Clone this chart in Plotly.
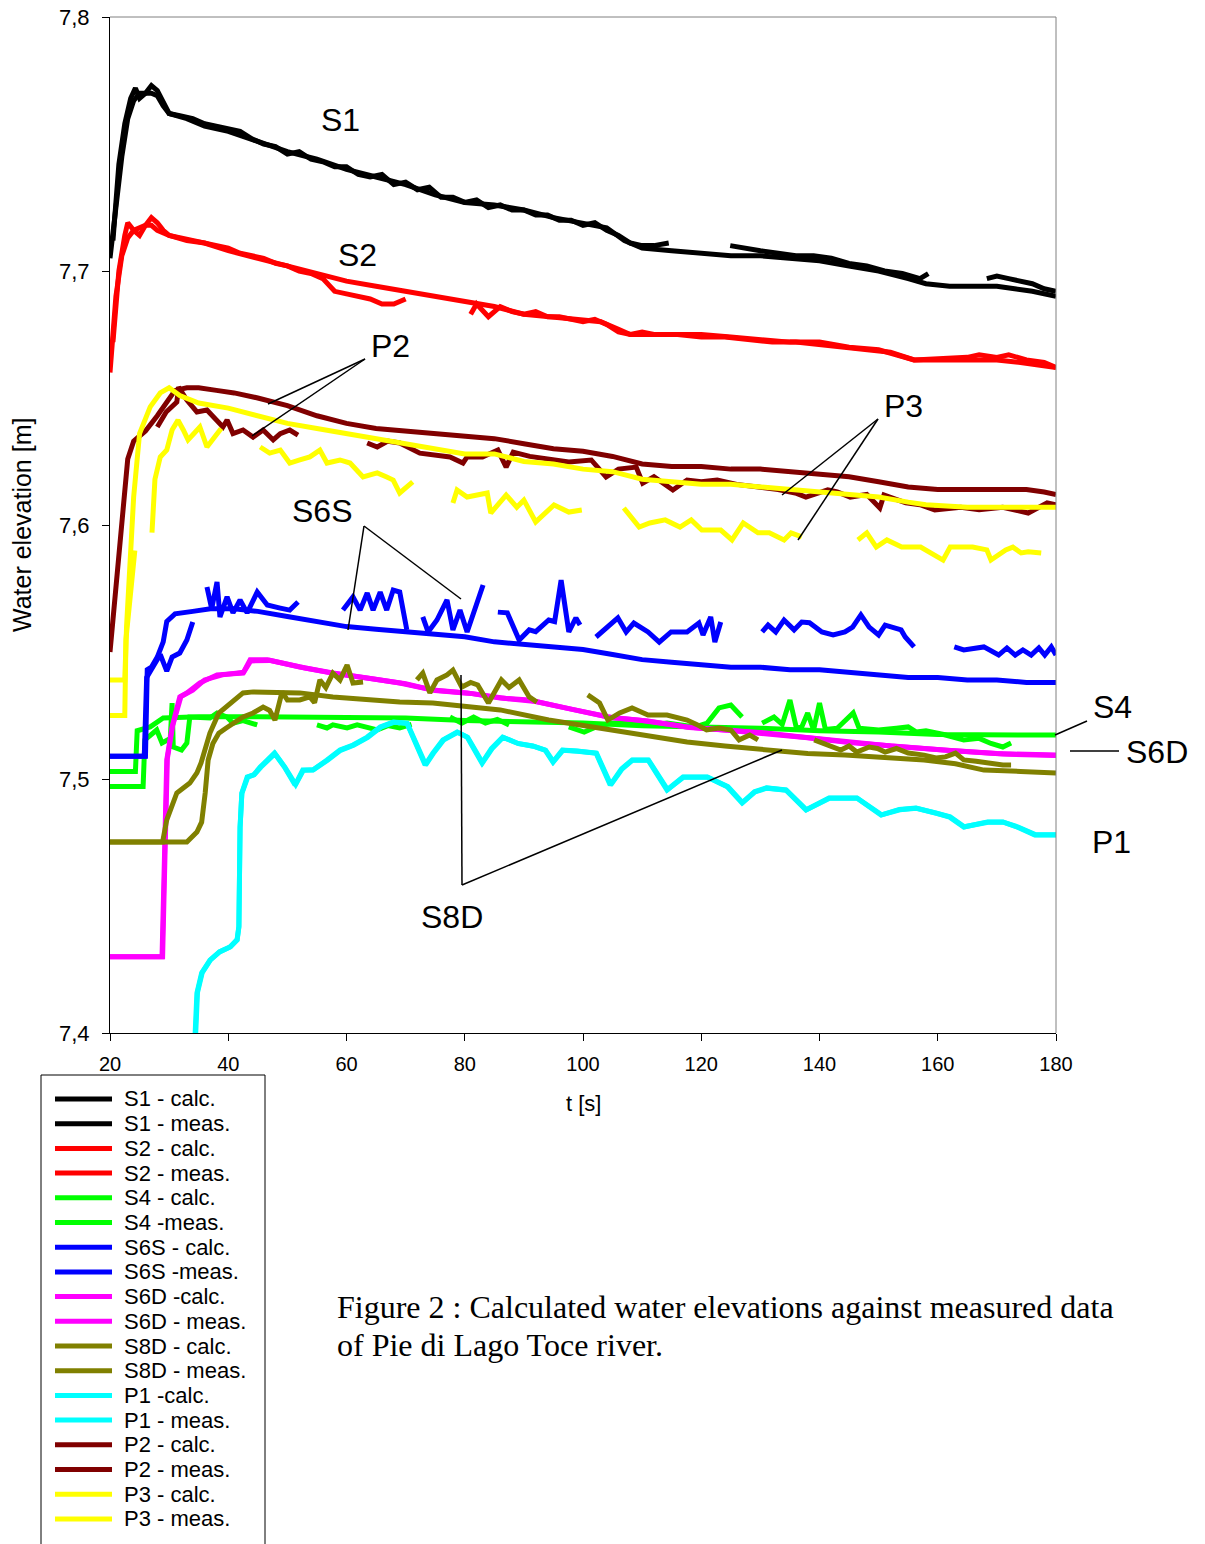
import plotly.graph_objects as go

# ---------------------------------------------------------------------------
# Water elevations at the gauges of the Toce river model (Pie di Lago)
# Each series is a list of (t [s], elevation [m]); (None, None) marks a gap
# ---------------------------------------------------------------------------
S1_CALC = [(20, 7.705), (21, 7.725), (22, 7.745), (23, 7.760), (24, 7.767), (25, 7.770),
           (27, 7.770), (28, 7.769), (29, 7.765), (30, 7.762), (33, 7.760), (36, 7.757),
           (40, 7.755), (45, 7.751), (50, 7.747), (55, 7.744), (60, 7.740), (65, 7.737),
           (70, 7.734), (75, 7.730), (80, 7.727), (85, 7.726), (90, 7.724), (95, 7.721),
           (100, 7.719), (104, 7.717), (107, 7.712), (110, 7.709), (115, 7.708), (120, 7.707),
           (125, 7.706), (130, 7.706), (135, 7.705), (140, 7.704), (145, 7.702), (150, 7.700),
           (155, 7.697), (158, 7.695), (162, 7.694), (170, 7.694), (173, 7.693), (176, 7.692),
           (180, 7.690)]
S1_MEAS = [(20.5, 7.712), (21.5, 7.742), (22.5, 7.758), (23.5, 7.768), (24.3, 7.772), (25, 7.768),
           (26, 7.770), (27, 7.773), (28, 7.771), (29, 7.766), (30, 7.762), (32, 7.761),
           (34, 7.760), (36, 7.758), (38, 7.757), (40, 7.756), (42, 7.755), (44, 7.752),
           (46, 7.750), (48, 7.749), (50, 7.746), (52, 7.747), (54, 7.744), (56, 7.743),
           (58, 7.741), (60, 7.741), (62, 7.738), (64, 7.737), (66, 7.738), (68, 7.734),
           (70, 7.735), (72, 7.732), (74, 7.733), (76, 7.729), (78, 7.729), (80, 7.727),
           (82, 7.728), (84, 7.725), (86, 7.726), (88, 7.724), (90, 7.724), (92, 7.722),
           (94, 7.722), (96, 7.720), (98, 7.720), (100, 7.718), (102, 7.719), (104, 7.716),
           (106, 7.714), (108, 7.711), (110, 7.710), (112, 7.710), (114.5, 7.711), (None, None),
           (124.9, 7.710), (127, 7.709), (130, 7.708), (133, 7.707), (136, 7.706), (139, 7.706),
           (142, 7.705), (145, 7.703), (148, 7.702), (151, 7.700), (154, 7.699), (157, 7.697),
           (158.4, 7.699), (None, None), (168.3, 7.697), (170, 7.698), (172, 7.697), (174, 7.696),
           (176, 7.695), (178, 7.693), (180, 7.692)]

S2_CALC = [(20, 7.660), (21, 7.690), (22, 7.706), (23, 7.713), (24, 7.716), (25, 7.717),
           (26, 7.718), (27, 7.718), (28, 7.716), (30, 7.714), (33, 7.712), (36, 7.711),
           (40, 7.708), (45, 7.705), (50, 7.702), (55, 7.699), (60, 7.696), (65, 7.694),
           (70, 7.692), (75, 7.690), (80, 7.688), (85, 7.686), (90, 7.683), (95, 7.682),
           (100, 7.681), (103, 7.680), (106, 7.677), (108, 7.675), (115, 7.675), (120, 7.675),
           (125, 7.674), (130, 7.673), (135, 7.672), (140, 7.672), (145, 7.670), (150, 7.669),
           (153, 7.667), (156, 7.665), (165, 7.665), (170, 7.665), (174, 7.664), (177, 7.663),
           (180, 7.662)]
S2_MEAS = [(20.5, 7.672), (21.5, 7.700), (22.5, 7.714), (23, 7.719), (24, 7.716), (25, 7.714),
           (26, 7.718), (27, 7.721), (28, 7.719), (29, 7.716), (30, 7.714), (32, 7.713),
           (34, 7.712), (36, 7.711), (38, 7.710), (40, 7.709), (42, 7.707), (44, 7.706),
           (46, 7.705), (48, 7.703), (50, 7.702), (52, 7.700), (54, 7.699), (56, 7.697),
           (58, 7.692), (60, 7.691), (62, 7.690), (64, 7.689), (66, 7.687), (68, 7.687),
           (70, 7.689), (None, None), (81, 7.683), (82, 7.687), (84, 7.682), (86, 7.686),
           (88, 7.684), (90, 7.683), (92, 7.684), (94, 7.682), (96, 7.682), (98, 7.681),
           (100, 7.680), (102, 7.681), (104, 7.679), (106, 7.676), (108, 7.675), (110, 7.676),
           (112, 7.675), (116, 7.675), (120, 7.674), (124, 7.674), (128, 7.673), (132, 7.672),
           (136, 7.672), (140, 7.671), (144, 7.670), (148, 7.669), (152, 7.668), (156, 7.665),
           (165, 7.666), (167, 7.667), (170, 7.666), (172, 7.667), (175, 7.665), (178, 7.664),
           (180, 7.662)]

S4_CALC = [(20, 7.503), (24.3, 7.503), (24.6, 7.519), (26.8, 7.5205), (29, 7.524), (35, 7.5245),
           (45, 7.5245), (60, 7.5244), (70, 7.524), (80, 7.523), (90, 7.5225), (100, 7.522),
           (110, 7.521), (120, 7.5205), (130, 7.520), (140, 7.519), (150, 7.5185), (160, 7.5175),
           (170, 7.5173), (180, 7.5173)]
S4_MEAS = [(20, 7.497), (25.6, 7.497), (25.9, 7.5154), (27.9, 7.5193), (28.8, 7.5142), (30.2, 7.516),
           (30.5, 7.5299), (30.7, 7.5126), (32.1, 7.5114), (33, 7.5142), (33.5, 7.5244), (35.2, 7.5244),
           (36.9, 7.524), (38.1, 7.526), (39.8, 7.5244), (40.8, 7.522), (42.5, 7.523), (44.9, 7.5213),
           (None, None), (55, 7.5213), (56.7, 7.5201), (57.7, 7.5213), (60.1, 7.5201), (61.8, 7.5213),
           (63.5, 7.5205), (65.2, 7.5193), (67, 7.521), (69, 7.5201), (71, 7.5215), (None, None),
           (77.5, 7.5244), (79.5, 7.522), (81.5, 7.5244), (83.5, 7.522), (85.5, 7.5235), (87.5, 7.5213),
           (None, None), (97.6, 7.5205), (100.2, 7.5185), (102.2, 7.5205), (104.9, 7.522),
           (108.3, 7.522), (111, 7.5213), (114.2, 7.522), (119, 7.5205), (121, 7.522), (123, 7.528),
           (125, 7.5291), (126.9, 7.5244), (None, None), (130.3, 7.522), (132.3, 7.5244),
           (133.7, 7.5215), (135, 7.5311), (136.1, 7.520), (137, 7.5205), (138, 7.526), (139, 7.5193),
           (140, 7.5299), (141, 7.5195), (143, 7.520), (145.7, 7.526), (146.7, 7.520), (150, 7.5193),
           (153, 7.520), (155, 7.5205), (156.4, 7.5185), (158, 7.519), (161, 7.5175), (164.4, 7.5154),
           (167, 7.516), (169, 7.514), (171, 7.5126), (172.4, 7.5142)]

S6S_CALC = [(20, 7.509), (26, 7.509), (26.3, 7.543), (27, 7.544), (28, 7.548), (29, 7.554),
            (29.6, 7.562), (31, 7.565), (34, 7.566), (37, 7.567), (41, 7.567), (45, 7.566),
            (50, 7.564), (55, 7.562), (60, 7.560), (65, 7.559), (70, 7.558), (75, 7.557),
            (80, 7.556), (85, 7.554), (90, 7.553), (95, 7.552), (100, 7.551), (105, 7.549),
            (110, 7.547), (115, 7.546), (120, 7.545), (125, 7.544), (130, 7.544), (135, 7.543),
            (140, 7.543), (145, 7.542), (150, 7.541), (155, 7.540), (160, 7.540), (165, 7.539),
            (170, 7.539), (175, 7.538), (180, 7.538)]
S6S_MEAS = [(20, 7.509), (25.8, 7.509), (26.2, 7.540), (27.5, 7.545), (28.5, 7.549), (29.6, 7.5425),
            (30.5, 7.548), (31.8, 7.5496), (33, 7.5547), (34, 7.5618), (None, None), (36.4, 7.5756),
            (37.2, 7.567), (38.1, 7.5776), (38.6, 7.5638), (39.8, 7.5717), (40.8, 7.5654),
            (42, 7.5705), (43.2, 7.5654), (44.9, 7.5736), (46.6, 7.5685), (48.8, 7.5673),
            (50.4, 7.5665), (51.8, 7.5697), (None, None), (59.4, 7.5665), (61.1, 7.5717),
            (62.3, 7.5665), (63.5, 7.5732), (64.5, 7.5665), (65.7, 7.5736), (66.8, 7.5665),
            (67.9, 7.5744), (69, 7.5736), (70.2, 7.5587), (None, None), (72.9, 7.5638),
            (73.8, 7.5579), (75.3, 7.5626), (77, 7.5705), (78, 7.5587), (79.2, 7.5665),
            (80.4, 7.5579), (83.1, 7.5764), (None, None), (85.6, 7.5657), (87.2, 7.5654),
            (89.2, 7.5547), (90.9, 7.5587), (92, 7.558), (94.2, 7.5626), (95.2, 7.562),
            (96.3, 7.5783), (97.6, 7.5579), (98.8, 7.5634), (99.5, 7.5606), (None, None),
            (102.2, 7.5559), (105.9, 7.5634), (107.3, 7.5579), (108.6, 7.5614), (111, 7.5579),
            (112.9, 7.5539), (114.9, 7.5579), (117.6, 7.5579), (119.6, 7.5614), (120.3, 7.5567),
            (121.6, 7.5638), (122.3, 7.5539), (123.3, 7.5618), (None, None), (130.3, 7.5579),
            (131.3, 7.5606), (132.6, 7.5579), (134, 7.5626), (135.7, 7.5587), (137, 7.5618),
            (138.3, 7.5615), (140.4, 7.5579), (142.3, 7.5567), (144.3, 7.5579), (145.6, 7.5598),
            (147, 7.5646), (148.4, 7.5598), (150, 7.5567), (151.1, 7.5606), (153.8, 7.5587),
            (154.5, 7.5559), (156, 7.552), (None, None), (162.8, 7.552), (164.4, 7.5508),
            (167.8, 7.552), (170.3, 7.5488), (171.7, 7.5516), (173.1, 7.5488), (174.4, 7.5508),
            (175.8, 7.5488), (177.1, 7.5516), (178.1, 7.5488), (179.2, 7.552), (180, 7.5488)]

S6D_CALC = [(20, 7.430), (28.8, 7.430), (29.2, 7.468), (29.6, 7.5075), (30.5, 7.5205), (31.8, 7.5323),
            (33, 7.5339), (35.2, 7.5378), (38.1, 7.541), (42.5, 7.5417), (43.7, 7.5469),
            (46.6, 7.5469), (52.1, 7.5441), (57.7, 7.5417), (63.5, 7.5398), (69, 7.5378),
            (74.6, 7.535), (80.4, 7.5339), (86, 7.5319), (90.9, 7.5311), (97, 7.528),
            (104.2, 7.5244), (110, 7.523), (117.6, 7.5205), (124, 7.5193), (131, 7.5181),
            (137, 7.5165), (144.3, 7.5146), (152, 7.513), (161, 7.5114), (170, 7.510), (180, 7.5094)]
S6D_MEAS = [(20, 7.430), (28.9, 7.430), (29.3, 7.470), (29.7, 7.508), (30.6, 7.521), (32, 7.5325),
            (34, 7.535), (36, 7.539), (39, 7.541), (42.6, 7.5420), (43.8, 7.5465), (47, 7.5467),
            (53, 7.5437), (58, 7.5415), (64, 7.5396), (70, 7.5375), (75, 7.5348), (81, 7.5337),
            (87, 7.5317), (92, 7.5305), (98, 7.5275), (105, 7.5241), (111, 7.5228), (118, 7.5203),
            (125, 7.5191), (132, 7.5178), (138, 7.5162), (145, 7.5144), (153, 7.5128), (162, 7.5112),
            (171, 7.5098), (180, 7.5093)]

S8D_CALC = [(20, 7.4752), (28.9, 7.4752), (29.6, 7.4839), (31.3, 7.4945), (33.5, 7.4984),
            (34.7, 7.5024), (35.4, 7.5063), (36.9, 7.5181), (38.4, 7.526), (40.5, 7.5299),
            (42.5, 7.5339), (44.2, 7.5343), (46.6, 7.5343), (52.1, 7.5339), (57.7, 7.5323),
            (63.5, 7.5311), (69, 7.5303), (74.6, 7.5299), (80.4, 7.5283), (86, 7.5272),
            (94.2, 7.5232), (100, 7.521), (107.6, 7.5181), (117.6, 7.5146), (124, 7.513),
            (131, 7.5114), (138, 7.510), (144.3, 7.5094), (150, 7.5085), (157.7, 7.5075),
            (163, 7.506), (167.8, 7.5035), (174, 7.503), (180, 7.5024)]
S8D_MEAS = [(20, 7.4752), (33, 7.4752), (34.7, 7.4791), (35.5, 7.483), (36.1, 7.4945), (36.6, 7.5075),
            (37.4, 7.514), (38.4, 7.518), (39.6, 7.520), (40.8, 7.522), (42.5, 7.5244), (44.2, 7.526),
            (45.9, 7.5283), (47, 7.527), (47.9, 7.5232), (49.1, 7.5343), (50, 7.5311), (52.1, 7.5311),
            (53.8, 7.5323), (54.6, 7.530), (55.5, 7.539), (56.5, 7.536), (57.7, 7.5417), (58.9, 7.539),
            (60.1, 7.5449), (61.1, 7.5378), (62.8, 7.5382), (None, None), (71.9, 7.539), (72.9, 7.5417),
            (74.1, 7.5339), (75.3, 7.539), (77, 7.541), (78, 7.5429), (79.5, 7.5362), (81, 7.538),
            (82.2, 7.537), (84, 7.5299), (86.2, 7.539), (87.5, 7.536), (89.2, 7.539), (90.9, 7.5323),
            (92.2, 7.5303), (None, None), (100.8, 7.5331), (102.8, 7.5299), (104.2, 7.5232),
            (106.2, 7.526), (108.3, 7.528), (111, 7.5252), (114.2, 7.5252), (117.6, 7.5232),
            (119.2, 7.5215), (120.9, 7.5193), (123, 7.5201), (125, 7.5193), (126.4, 7.5154),
            (128.2, 7.5173), (129.6, 7.5154), (None, None), (139.1, 7.5154), (141.6, 7.5134),
            (143.6, 7.5114), (145, 7.513), (146.3, 7.5106), (148.4, 7.5126), (149.8, 7.512),
            (151.1, 7.5106), (153, 7.512), (155, 7.5102), (157.7, 7.5094), (159.7, 7.5083),
            (161.3, 7.5087), (163, 7.5102), (164.4, 7.5075), (166.5, 7.507), (168.4, 7.5063),
            (171, 7.5055), (172.4, 7.5055)]

P1_CALC = [(34.4, 7.400), (34.7, 7.4157), (35.5, 7.4236), (36.9, 7.4287), (38.5, 7.4319), (40.3, 7.4339),
           (41.5, 7.4366), (41.8, 7.4417), (42, 7.4811), (42.3, 7.4945), (43.2, 7.5008), (44.3, 7.5016),
           (45.4, 7.5047), (46.6, 7.5075), (47.8, 7.5102), (49.5, 7.5047), (51.3, 7.4976), (52.6, 7.5035),
           (54.3, 7.5035), (56.7, 7.5075), (58.9, 7.5114), (61.1, 7.5134), (63.5, 7.5165), (65.7, 7.5205),
           (67.9, 7.5224), (70.2, 7.522), (71.9, 7.5126), (73.3, 7.5055), (74.6, 7.5102), (76.3, 7.5154),
           (78.7, 7.5185), (80.4, 7.5165), (82.9, 7.5063), (84.5, 7.512), (86.4, 7.5165), (89, 7.514),
           (91.5, 7.513), (93.6, 7.5114), (94.9, 7.5067), (96.5, 7.5114), (99, 7.511), (102.2, 7.5102),
           (104.6, 7.4976), (106.5, 7.504), (108.3, 7.5075), (111, 7.5075), (114.2, 7.4957),
           (116.9, 7.5008), (121, 7.5008), (124.4, 7.4969), (126.9, 7.4906), (129, 7.495),
           (131, 7.4965), (134.3, 7.4957), (137.7, 7.4878), (141.6, 7.4925), (146.3, 7.4925),
           (150.4, 7.4858), (153.5, 7.488), (156.3, 7.4886), (159.7, 7.4866), (162, 7.485),
           (164.4, 7.4811), (168.4, 7.4831), (171, 7.4831), (173.5, 7.481), (176.4, 7.478), (180, 7.478)]
P1_MEAS = [(34.5, 7.400), (34.8, 7.4160), (35.6, 7.4238), (37, 7.4288), (38.6, 7.4320), (40.4, 7.4340),
           (41.5, 7.4368), (41.8, 7.4420), (42, 7.4810), (42.3, 7.4943), (43.3, 7.5007), (44.4, 7.5017),
           (45.5, 7.5046), (46.7, 7.5074), (47.9, 7.5100), (49.6, 7.5046), (51.4, 7.4978),
           (52.7, 7.5034), (54.4, 7.5036), (56.8, 7.5074), (59, 7.5113), (61.2, 7.5133), (63.6, 7.5164),
           (65.8, 7.5204), (68, 7.5223), (70.3, 7.5218), (72, 7.5125), (73.4, 7.5056), (74.7, 7.5101),
           (76.4, 7.5153), (78.8, 7.5184), (80.5, 7.5164), (83, 7.5064), (84.6, 7.5119), (86.5, 7.5164),
           (89.1, 7.5139), (91.6, 7.5129), (93.7, 7.5113), (95, 7.5068), (96.6, 7.5113), (99.1, 7.5109),
           (102.3, 7.5101), (104.7, 7.4977), (106.6, 7.5039), (108.4, 7.5074), (111.1, 7.5074),
           (114.3, 7.4958), (117, 7.5007), (121.1, 7.5007), (124.5, 7.4970), (127, 7.4907),
           (129.1, 7.4949), (131.1, 7.4964), (134.4, 7.4956), (137.8, 7.4879), (141.7, 7.4924),
           (146.4, 7.4924), (150.5, 7.4859), (153.6, 7.4879), (156.4, 7.4885), (159.8, 7.4865),
           (162.1, 7.4851), (164.5, 7.4812), (168.5, 7.4830), (171.1, 7.4830), (173.6, 7.4811),
           (176.5, 7.4781), (180, 7.4781)]

P2_CALC = [(20, 7.550), (21, 7.575), (22, 7.605), (23, 7.626), (24, 7.633), (26, 7.637), (28, 7.643),
           (30, 7.650), (31, 7.653), (33, 7.654), (35, 7.654), (38, 7.653), (41, 7.652), (45, 7.650),
           (50, 7.647), (55, 7.643), (60, 7.640), (65, 7.638), (70, 7.637), (75, 7.636), (80, 7.635),
           (85, 7.634), (90, 7.632), (95, 7.630), (100, 7.629), (105, 7.627), (110, 7.624),
           (115, 7.623), (120, 7.623), (125, 7.622), (130, 7.622), (135, 7.621), (140, 7.620),
           (145, 7.619), (150, 7.617), (155, 7.615), (160, 7.614), (165, 7.614), (170, 7.614),
           (175, 7.614), (178, 7.613), (180, 7.612)]
P2_MEAS = [(28, 7.6386), (29.5, 7.6445), (31.3, 7.6484), (31.6, 7.6543), (33, 7.6492), (34.7, 7.6445),
           (36.4, 7.6453), (38.1, 7.6413), (39.1, 7.6386), (39.8, 7.6413), (40.8, 7.636), (42.5, 7.6374),
           (44.2, 7.6346), (45.9, 7.6374), (47.6, 7.6335), (48.8, 7.636), (50.4, 7.6374), (51.8, 7.6354),
           (None, None), (63.5, 7.6323), (65.2, 7.6307), (67, 7.633), (69, 7.6323), (72.4, 7.6283),
           (74.6, 7.6276), (77.5, 7.6268), (79.7, 7.6244), (80.4, 7.6268), (83, 7.6268), (85.6, 7.6295),
           (87, 7.6228), (88.2, 7.6287), (91, 7.627), (94, 7.626), (97.6, 7.6248), (101.4, 7.6256),
           (103.9, 7.6189), (106, 7.622), (109, 7.6228), (110.1, 7.6165), (112, 7.619), (115.2, 7.6138),
           (117.6, 7.6177), (120, 7.617), (122.7, 7.6177), (126, 7.616), (130, 7.615), (133, 7.614),
           (135.9, 7.6126), (137.7, 7.611), (141.4, 7.6138), (143, 7.613), (145.2, 7.611), (148, 7.612),
           (150.2, 7.6067), (150.9, 7.6118), (154.6, 7.6087), (157, 7.608), (159.5, 7.6059),
           (163.9, 7.607), (167, 7.606), (171, 7.607), (175.3, 7.6047), (178.5, 7.6087), (180, 7.608)]

P3_CALC = [(20, 7.539), (22.5, 7.539), (22.8, 7.560), (23.3, 7.585), (24, 7.611), (25, 7.636),
           (26.8, 7.6465), (28.5, 7.652), (30, 7.654), (31.8, 7.651), (35, 7.648), (40, 7.646),
           (45, 7.643), (50, 7.640), (55, 7.638), (60, 7.636), (65, 7.634), (70, 7.632), (75, 7.630),
           (80, 7.628), (85, 7.628), (90, 7.625), (95, 7.624), (100, 7.622), (105, 7.621), (110, 7.618),
           (115, 7.617), (120, 7.616), (125, 7.616), (130, 7.615), (135, 7.614), (140, 7.613),
           (145, 7.612), (150, 7.611), (155, 7.609), (158, 7.608), (165, 7.607), (170, 7.607),
           (175, 7.607), (180, 7.607)]
P3_MEAS = [(20, 7.525), (22.5, 7.525), (22.7, 7.555), (23.5, 7.572), (24.2, 7.590), (None, None),
           (27.1, 7.597), (27.6, 7.618), (28.5, 7.6268), (29.6, 7.6295), (30.5, 7.6374), (31.5, 7.6413),
           (32.4, 7.6374), (33.2, 7.6335), (34.2, 7.636), (35.2, 7.6386), (36.4, 7.6307), (38.1, 7.636),
           (38.8, 7.638), (None, None), (45.4, 7.6307), (47, 7.6283), (48.8, 7.6295), (50.4, 7.6244),
           (52.1, 7.6256), (53.8, 7.6268), (55.5, 7.6295), (56.7, 7.6244), (58.9, 7.6256),
           (60.6, 7.6244), (62.8, 7.6189), (65.2, 7.6205), (66.8, 7.6189), (67.9, 7.6177),
           (69, 7.6126), (71.2, 7.617), (None, None), (78, 7.6087), (78.7, 7.6138), (80.4, 7.611),
           (82.1, 7.612), (83.8, 7.6126), (84.4, 7.6047), (85.5, 7.608), (87, 7.6118), (88.8, 7.607),
           (90, 7.6098), (92, 7.6012), (95.1, 7.6079), (97.6, 7.6051), (99.8, 7.6059), (None, None),
           (106.9, 7.6067), (109.5, 7.5992), (111.3, 7.6008), (113.9, 7.602), (116.4, 7.5992),
           (118.3, 7.602), (120.1, 7.598), (123.3, 7.598), (125.2, 7.5941), (127.1, 7.6008),
           (129.6, 7.5969), (131.5, 7.5969), (134, 7.5941), (135.2, 7.5969), (137, 7.5953),
           (None, None), (146.5, 7.5941), (148, 7.5969), (149.6, 7.5913), (151.4, 7.5941),
           (153.9, 7.5913), (157.1, 7.5913), (160.9, 7.5862), (162.1, 7.5913), (165.9, 7.5913),
           (168.3, 7.5902), (169, 7.5862), (171.5, 7.5902), (172.7, 7.5913), (174.1, 7.589),
           (175.3, 7.5895), (177.5, 7.589)]

SERIES_NAMES = ["S1 - calc.", "S1 - meas.", "S2 - calc.", "S2 - meas.", "S4 - calc.", "S4 -meas.",
                "S6S - calc.", "S6S -meas.", "S6D -calc.", "S6D - meas.", "S8D - calc.", "S8D - meas.",
                "P1 -calc.", "P1 - meas.", "P2 - calc.", "P2 - meas.", "P3 - calc.", "P3 - meas."]
SERIES_DATA = [S1_CALC, S1_MEAS, S2_CALC, S2_MEAS, S4_CALC, S4_MEAS, S6S_CALC, S6S_MEAS,
               S6D_CALC, S6D_MEAS, S8D_CALC, S8D_MEAS, P1_CALC, P1_MEAS, P2_CALC, P2_MEAS,
               P3_CALC, P3_MEAS]
SERIES_COLORS = ["#000000", "#000000", "#FF0000", "#FF0000", "#00FF00", "#00FF00",
                 "#0000FF", "#0000FF", "#FF00FF", "#FF00FF", "#808000", "#808000",
                 "#00FFFF", "#00FFFF", "#800000", "#800000", "#FFFF00", "#FFFF00"]

X_TICKS = [20, 40, 60, 80, 100, 120, 140, 160, 180]
Y_TICKS = [7.4, 7.5, 7.6, 7.7, 7.8]

# ---------------------------------------------------------------------------
# Page geometry (pixels) and helpers to place paper-referenced items
# ---------------------------------------------------------------------------
W, H = 1205, 1544
PL, PR, PT, PB = 110, 1056, 17, 1033


def px(x):
    return (x - PL) / (PR - PL)


def py(y):
    return (PB - y) / (PB - PT)


SANS = "Liberation Sans, Arial, sans-serif"
SERIF = "Liberation Serif, Times New Roman, serif"

fig = go.Figure()
for name, data, color in zip(SERIES_NAMES, SERIES_DATA, SERIES_COLORS):
    fig.add_trace(go.Scatter(
        x=[p[0] for p in data], y=[p[1] for p in data], name=name, mode="lines",
        line=dict(color=color, width=5), showlegend=False, connectgaps=False,
        hoverinfo="skip"))

shapes = []
annotations = []

# frame: top and right edges in grey
shapes.append(dict(type="line", xref="paper", yref="paper", x0=0, x1=1, y0=1, y1=1,
                   line=dict(color="#808080", width=1)))
shapes.append(dict(type="line", xref="paper", yref="paper", x0=1, x1=1, y0=0, y1=1,
                   line=dict(color="#808080", width=1)))

# station labels with leader lines
labels = [("S1", 340, 120), ("S2", 357, 255), ("P2", 390, 346), ("S6S", 322, 511),
          ("P3", 903, 406), ("S4", 1112, 707), ("S6D", 1157, 752), ("P1", 1111, 842),
          ("S8D", 452, 917)]
for text, x, y in labels:
    annotations.append(dict(text=text, x=px(x), y=py(y), xref="paper", yref="paper",
                            showarrow=False, xanchor="center", yanchor="middle",
                            font=dict(family=SANS, size=32, color="black")))

leaders = [((365, 359), (268, 404)), ((365, 359), (252, 436)),
           ((364, 526), (348, 630)), ((364, 526), (461, 599)),
           ((878, 419), (782, 495)), ((878, 419), (798, 540)),
           ((1087, 721), (1055, 735)), ((1070, 751), (1119, 751)),
           ((462, 885), (461, 675)), ((462, 885), (782, 750))]
for (x0, y0), (x1, y1) in leaders:
    shapes.append(dict(type="line", xref="paper", yref="paper",
                       x0=px(x0), y0=py(y0), x1=px(x1), y1=py(y1),
                       line=dict(color="black", width=1.5)))

# legend box with one line sample per series
shapes.append(dict(type="rect", xref="paper", yref="paper",
                   x0=px(41), x1=px(265), y0=py(1075), y1=py(1570),
                   line=dict(color="black", width=1), fillcolor="white", layer="below"))
for i, (name, color) in enumerate(zip(SERIES_NAMES, SERIES_COLORS)):
    yc = 1099 + 24.7 * i
    shapes.append(dict(type="line", xref="paper", yref="paper",
                       x0=px(55), x1=px(112), y0=py(yc), y1=py(yc),
                       line=dict(color=color, width=5)))
    annotations.append(dict(text=name, x=px(122), y=py(yc), xref="paper", yref="paper",
                            showarrow=False, xanchor="left", yanchor="middle",
                            font=dict(family=SANS, size=22, color="black")))

# axis titles
annotations.append(dict(text="t [s]", x=px(583), y=py(1103), xref="paper", yref="paper",
                        showarrow=False, xanchor="center", yanchor="middle",
                        font=dict(family=SANS, size=22, color="black")))
annotations.append(dict(text="Water elevation [m]", x=px(22), y=py(525), xref="paper",
                        yref="paper", showarrow=False, textangle=-90,
                        xanchor="center", yanchor="middle",
                        font=dict(family=SANS, size=25, color="black")))

# figure caption
annotations.append(dict(text="Figure 2 : Calculated water elevations against measured data",
                        x=px(335), y=py(1307), xref="paper", yref="paper", showarrow=False,
                        xanchor="left", yanchor="middle",
                        font=dict(family=SERIF, size=32, color="black")))
annotations.append(dict(text="of Pie di Lago Toce river.",
                        x=px(335), y=py(1345), xref="paper", yref="paper", showarrow=False,
                        xanchor="left", yanchor="middle",
                        font=dict(family=SERIF, size=32, color="black")))

fig.update_layout(
    width=W, height=H,
    margin=dict(l=PL, r=W - PR, t=PT, b=H - PB, pad=0),
    paper_bgcolor="white", plot_bgcolor="white",
    separators=", ",
    shapes=shapes, annotations=annotations,
    xaxis=dict(range=[20, 180], tickvals=X_TICKS, ticks="outside", ticklen=7, tickwidth=1,
               tickcolor="black", showline=True, linecolor="black", linewidth=1,
               showgrid=False, zeroline=False, ticklabelstandoff=6, automargin=False,
               tickfont=dict(family=SANS, size=20, color="black")),
    yaxis=dict(range=[7.4, 7.8], tickvals=Y_TICKS, tickformat=".1f", ticks="outside",
               ticklen=7, tickwidth=1, tickcolor="black", showline=True, linecolor="black",
               linewidth=1, showgrid=False, zeroline=False, ticklabelstandoff=8, automargin=False,
               tickfont=dict(family=SANS, size=22, color="black")),
)

fig.write_html("out.html")
